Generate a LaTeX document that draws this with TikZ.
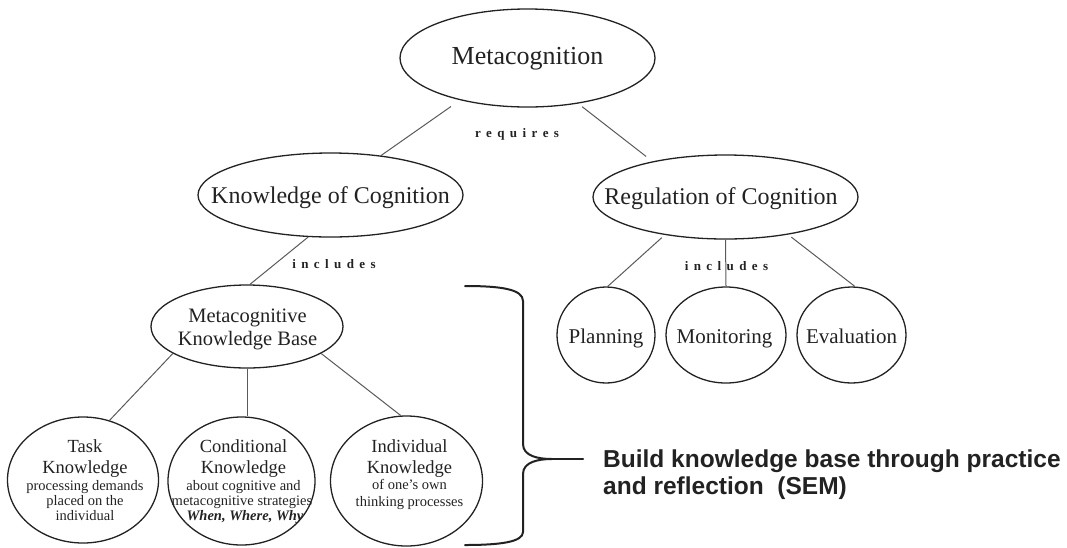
\documentclass[tikz,border=0pt]{standalone}
\usepackage{fontspec}
\setmainfont{Liberation Serif}
\newfontfamily\buildfont{Liberation Sans}
\usetikzlibrary{shapes.geometric}
\definecolor{ink}{HTML}{222222}
\definecolor{linegray}{HTML}{5A5A5A}
\newcommand\fs[2]{\fontsize{#1}{#2}\selectfont}
\newcommand\spreadtxt[1]{\spreadloop#1\relax\kern-5.4pt}
\def\spreadloop#1{\ifx#1\relax\else#1\kern5.4pt\expandafter\spreadloop\fi}
\tikzset{
  ell/.style={draw=ink, line width=1.3pt, ellipse, inner sep=0pt},
  conn/.style={draw=linegray, line width=1pt},
  txt/.style={text=ink, inner sep=0pt, anchor=base},
  bigt/.style={txt, font=\fs{24}{28}},
  midt/.style={txt, font=\fs{21}{24}},
  mkbt/.style={txt, font=\fs{20.5}{23}},
  subt/.style={txt, font=\fs{18.5}{21}},
  smallt/.style={txt, font=\fs{14.5}{16}},
  spaced/.style={txt, font=\fs{13}{15}\bfseries},
  bracepath/.style={draw=ink, line width=2pt, line cap=round, line join=round},
  buildt/.style={txt, anchor=base west, font=\buildfont\bfseries\fs{24.5}{28}}
}
\begin{document}
\begin{tikzpicture}[x=1pt, y=-1pt]
\useasboundingbox (0,0) rectangle (1067,547);

% ellipses
\node[ell, minimum width=255pt, minimum height=98pt] (meta) at (527.5,58) {};
\node[ell, minimum width=265pt, minimum height=84pt] (kc) at (330.5,195) {};
\node[ell, minimum width=265pt, minimum height=84pt] (rc) at (725.5,197) {};
\node[ell, minimum width=192pt, minimum height=83pt] (mkb) at (247,326.5) {};
\node[ell, minimum width=98pt, minimum height=96pt] (plan) at (606,335) {};
\node[ell, minimum width=120pt, minimum height=96pt] (mon) at (726,335) {};
\node[ell, minimum width=109pt, minimum height=96pt] (eval) at (851.5,335) {};
\node[ell, minimum width=151pt, minimum height=126pt] (task) at (83,480) {};
\node[ell, minimum width=147pt, minimum height=128pt] (cond) at (241.5,481) {};
\node[ell, minimum width=152pt, minimum height=130pt] (indiv) at (406.5,481) {};

% texts
\node[txt, font=\fs{26}{30}] (meta-t) at (527.5,64) {Metacognition};
\node[bigt] (kc-t) at (330.5,203) {Knowledge of Cognition};
\node[bigt] (rc-t) at (721,204) {Regulation of Cognition};
\node[mkbt] (mkb-t1) at (247.5,322) {Metacognitive};
\node[mkbt] (mkb-t2) at (247.5,345) {Knowledge Base};
\node[midt] (plan-t) at (606,343) {Planning};
\node[midt] (mon-t) at (724.5,343) {Monitoring};
\node[midt] (eval-t) at (851.5,343) {Evaluation};

\node[subt] (task-t1) at (85,452) {Task};
\node[subt] (task-t2) at (85,473) {Knowledge};
\node[smallt] (task-t3) at (85,490) {processing demands};
\node[smallt] (task-t4) at (85,505) {placed on the};
\node[smallt] (task-t5) at (85,520) {individual};

\node[subt] (cond-t1) at (243.5,452) {Conditional};
\node[subt] (cond-t2) at (243.5,473) {Knowledge};
\node[smallt] (cond-t3) at (243.5,490) {about cognitive and};
\node[smallt] (cond-t4) at (242,505) {metacognitive strategies};
\node[smallt, font=\fs{14.5}{16}\bfseries\itshape] (cond-t5) at (245,520) {When, Where, Why};

\node[subt] (indiv-t1) at (409.5,452) {Individual};
\node[subt] (indiv-t2) at (409.5,473) {Knowledge};
\node[smallt] (indiv-t3) at (409.5,489) {of one's own};
\node[smallt] (indiv-t4) at (409.5,506) {thinking processes};

\node[spaced] (req) at (517,137) {\spreadtxt{requires}};
\node[spaced] (inc1) at (334,268) {\spreadtxt{includes}};
\node[spaced] (inc2) at (726.5,270) {\spreadtxt{includes}};

% connectors
\draw[conn, shorten <=11pt] (meta.212) -- (kc.38);
\draw[conn, shorten <=5pt, shorten >=8pt] (meta.318) -- (rc.154);
\draw[conn] (kc.242) -- (mkb.86);
\draw[conn, shorten <=4pt] (rc.212) -- (plan.88);
\draw[conn] (rc.270) -- (mon.90);
\draw[conn, shorten <=4pt] (rc.329) -- (eval.86);
\draw[conn] (mkb.200) -- (task.66);
\draw[conn] (mkb.270) -- (mkb.270 |- cond.north);
\draw[conn] (mkb.340) -- (indiv.95);

% brace
\coordinate (btop) at (465,286);
\coordinate (bbot) at (465,545);
\coordinate (tip) at (552,459);
\coordinate (ptr) at (583,459);
\draw[bracepath] (btop) .. controls (500,286) and (523,289) .. (523,301)
  -- (523,444) .. controls (523,456) and (538,459) .. (tip)
  .. controls (538,459) and (523,462) .. (523,474)
  -- (523,532) .. controls (523,542) and (500,545) .. (bbot);
\draw[bracepath] (tip) -- (ptr);

\node[buildt] (build1) at (603,467) {Build knowledge base through practice};
\node[buildt] (build2) at (603,494) {and reflection\ \ (SEM)};
\end{tikzpicture}
\end{document}
